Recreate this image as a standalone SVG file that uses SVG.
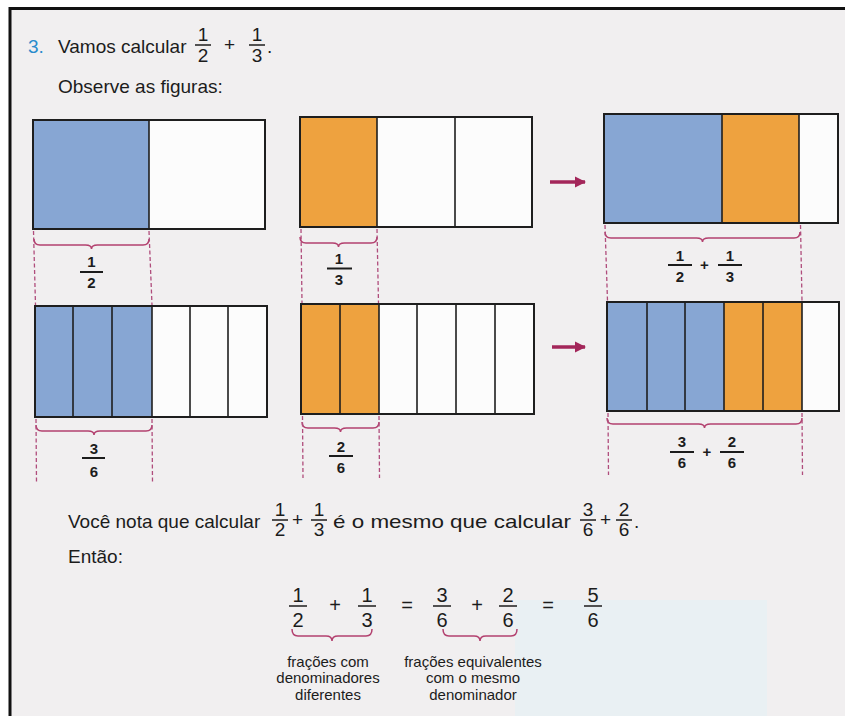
<svg xmlns="http://www.w3.org/2000/svg" width="845" height="716" viewBox="0 0 845 716">
<defs>
<marker id="ah" viewBox="0 0 10 10" refX="9" refY="5" markerWidth="3.2" markerHeight="3.2" orient="auto" markerUnits="strokeWidth">
<path d="M0,0 L10,5 L0,10 z" fill="#a3265a"/>
</marker>
</defs>
<style>
.t{font-family:"Liberation Sans",Arial,sans-serif;font-size:19px;fill:#1c1c1c}
.n{font-family:"Liberation Sans",Arial,sans-serif;font-size:19px;fill:#1c1c1c;text-anchor:middle}
.e{font-family:"Liberation Sans",Arial,sans-serif;font-size:20px;fill:#1c1c1c;text-anchor:middle}
.f{font-family:"Liberation Sans",Arial,sans-serif;font-size:15px;font-weight:bold;fill:#1c1c1c;text-anchor:middle}
.l{font-family:"Liberation Sans",Arial,sans-serif;font-size:15px;fill:#1c1c1c;text-anchor:middle}
.bar{stroke:#1c1c1c;stroke-width:1.5}
.fbar{stroke:#1c1c1c;stroke-width:2}
.box{fill:none;stroke:#1e1e1e;stroke-width:2}
.div{stroke:#1e1e1e;stroke-width:1.6}
.blue{fill:#87a6d3}
.orange{fill:#eea23f}
.white{fill:#fcfcfc}
.brace{fill:none;stroke:#b3416f;stroke-width:1.5}
.dash{stroke:#b04d7c;stroke-width:1.3;stroke-dasharray:4 2.5;fill:none}
.arrow{stroke:#a3265a;stroke-width:3.5;fill:none}
</style>
<rect x="0" y="0" width="845" height="716" fill="#ffffff"/>
<rect x="10" y="8" width="835" height="708" fill="#f1eff0"/>
<rect x="515" y="600" width="252" height="116" fill="#e9f0f3"/>
<path d="M10 716 V8.5 H845" fill="none" stroke="#111" stroke-width="3"/>

<g id="title">
<text class="t" x="28" y="53" style="fill:#2a8ccc">3.</text>
<text class="t" x="58" y="53">Vamos calcular</text>
<text class="n" x="203" y="41">1</text><line class="bar" x1="195" y1="45" x2="211" y2="45"/><text class="n" x="203" y="62">2</text>
<text class="t" x="224" y="51">+</text>
<text class="n" x="257" y="41">1</text><line class="bar" x1="249" y1="45" x2="265" y2="45"/><text class="n" x="257" y="62">3</text>
<text class="t" x="267" y="53">.</text>
<text class="t" x="58" y="93">Observe as figuras:</text>
</g>

<g id="fig-half">
<rect class="blue" x="33" y="120" width="116" height="109"/>
<rect class="white" x="149" y="120" width="116" height="109"/>
<rect class="box" x="33" y="120" width="232" height="109"/>
<line class="div" x1="149" y1="120" x2="149" y2="229"/>
<path class="brace" d="M34 239 Q34 245 40 245 L85.5 245 Q91.5 245 91.5 249 Q91.5 245 97.5 245 L143 245 Q149 245 149 239"/>
<text class="f" x="91.5" y="267">1</text><line class="fbar" x1="80" y1="272" x2="103" y2="272"/><text class="f" x="91.5" y="288">2</text>
</g>

<g id="fig-third">
<rect class="orange" x="300" y="117" width="77" height="110"/>
<rect class="white" x="377" y="117" width="155" height="110"/>
<rect class="box" x="300" y="117" width="232" height="110"/>
<line class="div" x1="377" y1="117" x2="377" y2="227"/>
<line class="div" x1="455" y1="117" x2="455" y2="227"/>
<path class="brace" d="M300 237 Q300 243 306 243 L332.5 243 Q338.5 243 338.5 247 Q338.5 243 344.5 243 L371 243 Q377 243 377 237"/>
<text class="f" x="339" y="264">1</text><line class="fbar" x1="327" y1="268.5" x2="352" y2="268.5"/><text class="f" x="339" y="285">3</text>
</g>

<g id="fig-sum">
<rect class="blue" x="604" y="114" width="118" height="109"/>
<rect class="orange" x="722" y="114" width="77" height="109"/>
<rect class="white" x="799" y="114" width="39" height="109"/>
<rect class="box" x="604" y="114" width="234" height="109"/>
<line class="div" x1="722" y1="114" x2="722" y2="223"/>
<line class="div" x1="799" y1="114" x2="799" y2="223"/>
<path class="brace" d="M605 232 Q605 238 611 238 L696.5 238 Q702.5 238 702.5 242 Q702.5 238 708.5 238 L794 238 Q800 238 800 232"/>
<text class="f" x="680" y="261">1</text><line class="fbar" x1="668" y1="265" x2="692" y2="265"/><text class="f" x="680" y="282">2</text>
<text class="f" x="704.5" y="270">+</text>
<text class="f" x="730" y="261">1</text><line class="fbar" x1="718" y1="265" x2="742" y2="265"/><text class="f" x="730" y="282">3</text>
</g>

<g id="fig-three-sixths">
<rect class="blue" x="35" y="306" width="117" height="111"/>
<rect class="white" x="152" y="306" width="115" height="111"/>
<rect class="box" x="35" y="306" width="232" height="111"/>
<line class="div" x1="73" y1="306" x2="73" y2="417"/>
<line class="div" x1="112" y1="306" x2="112" y2="417"/>
<line class="div" x1="152" y1="306" x2="152" y2="417"/>
<line class="div" x1="190" y1="306" x2="190" y2="417"/>
<line class="div" x1="228" y1="306" x2="228" y2="417"/>
<path class="brace" d="M36 425 Q36 431 42 431 L88 431 Q94 431 94 435 Q94 431 100 431 L146 431 Q152 431 152 425"/>
<text class="f" x="94" y="454">3</text><line class="fbar" x1="82" y1="458" x2="105" y2="458"/><text class="f" x="94" y="477">6</text>
</g>

<g id="fig-two-sixths">
<rect class="orange" x="301" y="304" width="78" height="110"/>
<rect class="white" x="379" y="304" width="155" height="110"/>
<rect class="box" x="301" y="304" width="233" height="110"/>
<line class="div" x1="340" y1="304" x2="340" y2="414"/>
<line class="div" x1="379" y1="304" x2="379" y2="414"/>
<line class="div" x1="417" y1="304" x2="417" y2="414"/>
<line class="div" x1="456" y1="304" x2="456" y2="414"/>
<line class="div" x1="495" y1="304" x2="495" y2="414"/>
<path class="brace" d="M302 422 Q302 428 308 428 L334.5 428 Q340.5 428 340.5 432 Q340.5 428 346.5 428 L373 428 Q379 428 379 422"/>
<text class="f" x="341" y="452">2</text><line class="fbar" x1="329" y1="456" x2="353" y2="456"/><text class="f" x="341" y="473">6</text>
</g>

<g id="fig-sum-sixths">
<rect class="blue" x="607" y="302" width="117" height="109"/>
<rect class="orange" x="724" y="302" width="78" height="109"/>
<rect class="white" x="802" y="302" width="37" height="109"/>
<rect class="box" x="607" y="302" width="232" height="109"/>
<line class="div" x1="647" y1="302" x2="647" y2="411"/>
<line class="div" x1="685" y1="302" x2="685" y2="411"/>
<line class="div" x1="724" y1="302" x2="724" y2="411"/>
<line class="div" x1="763" y1="302" x2="763" y2="411"/>
<line class="div" x1="802" y1="302" x2="802" y2="411"/>
<path class="brace" d="M607 418 Q607 424 613 424 L698.5 424 Q704.5 424 704.5 428 Q704.5 424 710.5 424 L796 424 Q802 424 802 418"/>
<text class="f" x="682" y="447">3</text><line class="fbar" x1="670" y1="452" x2="694" y2="452"/><text class="f" x="682" y="468">6</text>
<text class="f" x="707" y="457">+</text>
<text class="f" x="732" y="447">2</text><line class="fbar" x1="720" y1="452" x2="744" y2="452"/><text class="f" x="732" y="468">6</text>
</g>

<g id="connectors">
<path class="dash" d="M33.5 231 L35.5 305 M149 231 L152 305 M36 419 L36.5 483 M152 419 L152.5 483"/>
<path class="dash" d="M301 229 L302 303 M377 229 L378.5 303 M302.5 416 L303 478 M379 416 L379.5 478"/>
<path class="dash" d="M605 225 L607.5 301 M800.5 225 L802 301 M608 413 L608.5 475 M802 413 L802.5 475"/>
<line class="arrow" x1="550" y1="182" x2="585" y2="182" marker-end="url(#ah)"/>
<line class="arrow" x1="552" y1="347" x2="585" y2="347" marker-end="url(#ah)"/>
</g>

<g id="conclusion">
<text class="t" x="68" y="528">Você nota que calcular</text>
<text class="n" x="280" y="516">1</text><line class="bar" x1="272" y1="520" x2="288" y2="520"/><text class="n" x="280" y="536">2</text>
<text class="t" x="292" y="526">+</text>
<text class="n" x="319" y="516">1</text><line class="bar" x1="311" y1="520" x2="327" y2="520"/><text class="n" x="319" y="536">3</text>
<text class="t" x="333" y="528" textLength="238" lengthAdjust="spacingAndGlyphs">é o mesmo que calcular</text>
<text class="n" x="588" y="516">3</text><line class="bar" x1="580" y1="520" x2="596" y2="520"/><text class="n" x="588" y="536">6</text>
<text class="t" x="600" y="526">+</text>
<text class="n" x="624" y="516">2</text><line class="bar" x1="616" y1="520" x2="632" y2="520"/><text class="n" x="624" y="536">6</text>
<text class="t" x="634" y="528">.</text>
<text class="t" x="68" y="563">Então:</text>
</g>

<g id="equation">
<text class="e" x="298" y="602">1</text><line class="bar" x1="289" y1="606" x2="307" y2="606"/><text class="e" x="298" y="627">2</text>
<text class="e" x="335" y="612">+</text>
<text class="e" x="367" y="602">1</text><line class="bar" x1="358" y1="606" x2="376" y2="606"/><text class="e" x="367" y="627">3</text>
<text class="e" x="407" y="612">=</text>
<text class="e" x="442" y="602">3</text><line class="bar" x1="433" y1="606" x2="451" y2="606"/><text class="e" x="442" y="627">6</text>
<text class="e" x="477" y="612">+</text>
<text class="e" x="508" y="602">2</text><line class="bar" x1="499" y1="606" x2="517" y2="606"/><text class="e" x="508" y="627">6</text>
<text class="e" x="548" y="612">=</text>
<text class="e" x="593" y="602">5</text><line class="bar" x1="584" y1="606" x2="602" y2="606"/><text class="e" x="593" y="627">6</text>
<path class="brace" d="M292 629 Q292 636 298 636 L326 636 Q332 636 332 641 Q332 636 338 636 L366 636 Q372 636 372 629"/>
<path class="brace" d="M443 629 Q443 636 449 636 L474 636 Q480 636 480 641 Q480 636 486 636 L511 636 Q517 636 517 629"/>
<text class="l" x="328" y="667">frações com</text>
<text class="l" x="328" y="683">denominadores</text>
<text class="l" x="328" y="700">diferentes</text>
<text class="l" x="473" y="667">frações equivalentes</text>
<text class="l" x="473" y="683">com o mesmo</text>
<text class="l" x="473" y="700">denominador</text>
</g>
</svg>
